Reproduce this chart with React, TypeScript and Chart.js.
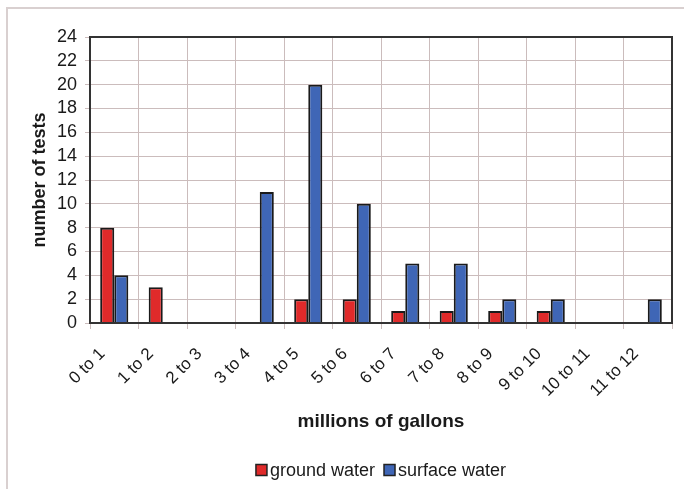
import React, { useEffect, useRef } from "react";
import { Chart, registerables } from "chart.js";

Chart.register(...registerables);

const categories = ["0 to 1", "1 to 2", "2 to 3", "3 to 4", "4 to 5", "5 to 6", "6 to 7", "7 to 8", "8 to 9", "9 to 10", "10 to 11", "11 to 12"];
const groundWater = [8, 3, 0, 0, 2, 2, 1, 1, 1, 1, 0, 0];
const surfaceWater = [4, 0, 0, 11, 20, 10, 5, 5, 2, 2, 0, 2];
const seriesNames = ["ground water", "surface water"];
const xTitle = "millions of gallons";
const yTitle = "number of tests";

const RED = "#e02a2a";
const BLUE = "#3f66b6";
const GRID = "#cbbcbc";
const FONT = "'Liberation Sans', Arial, sans-serif";

const framePlugin = {
  id: "frame",
  beforeDraw(chart: any) {
    const ctx = chart.ctx;
    ctx.save();
    ctx.fillStyle = "#ffffff";
    ctx.fillRect(0, 0, chart.width, chart.height);
    ctx.strokeStyle = "#d9d0d0";
    ctx.lineWidth = 2;
    ctx.beginPath();
    ctx.moveTo(7, chart.height);
    ctx.lineTo(7, 8);
    ctx.lineTo(chart.width, 8);
    ctx.stroke();
    ctx.restore();
  },
  afterDraw(chart: any) {
    const ctx = chart.ctx;
    const a = chart.chartArea;
    ctx.save();
    ctx.strokeStyle = "#333333";
    ctx.lineWidth = 2;
    ctx.strokeRect(a.left, a.top, a.right - a.left, a.bottom - a.top);
    // legend
    ctx.font = "18px " + FONT;
    ctx.textBaseline = "middle";
    ctx.textAlign = "left";
    const box = 11;
    const gapText = 3;
    const gapItem = 9;
    const items = chart.data.datasets.map((d: any) => ({ label: d.label, color: d.backgroundColor }));
    let total = 0;
    items.forEach((it: any, i: number) => {
      total += box + gapText + ctx.measureText(it.label).width + (i < items.length - 1 ? gapItem : 0);
    });
    let x = (a.left + a.right) / 2 - total / 2;
    const y = 470;
    items.forEach((it: any) => {
      ctx.fillStyle = it.color;
      ctx.fillRect(x, y - box / 2, box, box);
      ctx.strokeStyle = "#222";
      ctx.lineWidth = 1.5;
      ctx.strokeRect(x, y - box / 2, box, box);
      x += box + gapText;
      ctx.fillStyle = "#1a1a1a";
      ctx.fillText(it.label, x, y + 1);
      x += ctx.measureText(it.label).width + gapItem;
    });
    ctx.restore();
  },
};

export default function App() {
  const ref = useRef<HTMLCanvasElement>(null);
  useEffect(() => {
    const chart = new Chart(ref.current!, {
      type: "bar",
      data: {
        labels: categories,
        datasets: [
          { label: seriesNames[0], data: groundWater, backgroundColor: RED, borderColor: "#1a1a1a", borderWidth: 2, categoryPercentage: 0.58, barPercentage: 1 },
          { label: seriesNames[1], data: surfaceWater, backgroundColor: BLUE, borderColor: "#1a1a1a", borderWidth: 2, categoryPercentage: 0.58, barPercentage: 1 },
        ],
      },
      options: {
        animation: false,
        responsive: false,
        devicePixelRatio: 1,
        layout: { padding: { left: 0, top: 37, right: 12, bottom: 36 } },
        plugins: { legend: { display: false }, tooltip: { enabled: false } },
        scales: {
          x: {
            afterFit: (s: any) => { s.height = 130; },
            grid: { color: GRID, offset: true, tickLength: 6, lineWidth: 1 },
            border: { color: "#333333", width: 2 },
            ticks: { color: "#1a1a1a", font: { family: FONT, size: 17 }, minRotation: 45, maxRotation: 45, padding: 15, labelOffset: -12, autoSkip: false },
            title: { display: true, text: xTitle, color: "#1a1a1a", font: { family: FONT, size: 19, weight: "bold" }, padding: { top: 0, bottom: 20 } },
          },
          y: {
            min: 0,
            max: 24,
            afterFit: (s: any) => { s.width = 90; },
            grid: { color: GRID, tickLength: 5, lineWidth: 1 },
            border: { color: "#333333", width: 2 },
            ticks: { stepSize: 2, autoSkip: false, color: "#1a1a1a", font: { family: FONT, size: 18 }, padding: 8 },
            title: { display: true, text: yTitle, color: "#1a1a1a", font: { family: FONT, size: 18, weight: "bold" }, padding: { top: 29, bottom: 0 } },
          },
        },
      },
      plugins: [framePlugin],
    });
    return () => chart.destroy();
  }, []);
  return (
    <div style={{ position: "fixed", left: 0, top: 0, width: 684, height: 489 }}>
      <canvas ref={ref} width={684} height={489} />
    </div>
  );
}
